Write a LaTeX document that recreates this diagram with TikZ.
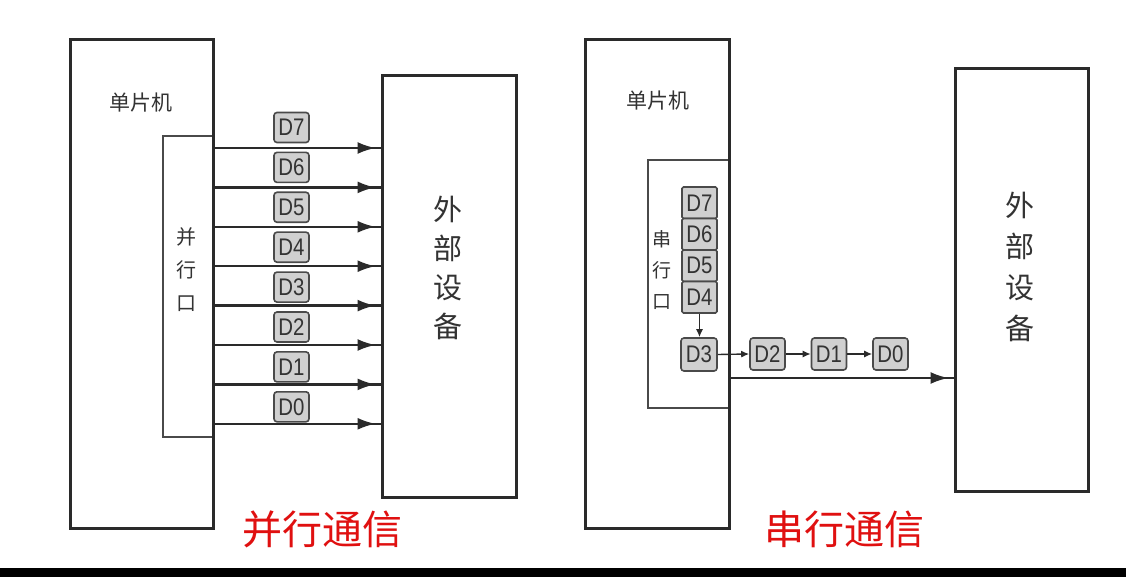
\documentclass[tikz,border=0pt]{standalone}
\usepackage{fontspec}
\usepackage{graphicx}
\setmainfont{Liberation Sans}
\newfontfamily\cjk{Noto Sans CJK SC}
\usetikzlibrary{arrows.meta,decorations.markings}
\definecolor{lineC}{HTML}{2A2A2A}
\definecolor{portC}{HTML}{4A4A4A}
\definecolor{dC}{HTML}{4A4A4A}
\definecolor{dFill}{HTML}{D0D0D0}
\definecolor{txtC}{HTML}{333333}
\definecolor{redC}{HTML}{E01010}
\newcommand{\dl}[1]{\scalebox{0.85}[1]{#1}}
\begin{document}
\begin{tikzpicture}[x=1pt,y=1pt,
  mainbox/.style={draw=lineC, line width=3pt, inner sep=0pt},
  portbox/.style={draw=portC, line width=2.2pt, inner sep=0pt},
  dbox/.style={draw=dC, fill=dFill, line width=1.6pt, rounded corners=3pt,
    minimum width=35pt, minimum height=30pt, inner sep=0pt,
    font=\fontsize{24}{24}\selectfont, text=txtC},
  bus/.style={draw=lineC, line width=2.4pt, postaction={decorate},
    decoration={markings, mark=at position -5pt with {\arrow{Latex[length=18pt,width=12pt]}}}},
  link/.style={draw=lineC, line width=1.4pt, -{Latex[length=8pt,width=7pt]}},
  lbl/.style={text=txtC, inner sep=0pt, font=\cjk\fontsize{21}{21}\selectfont},
  vlbl/.style={text=txtC, inner sep=0pt, align=center},
  redlbl/.style={text=redC, inner sep=0pt, font=\cjk\fontsize{40}{40}\selectfont}
]
\useasboundingbox (0,0) rectangle (1126,-577);
\fill[white] (0,0) rectangle (1126,-577);

% ---------------- parallel ----------------
\node[portbox, minimum width=50pt, minimum height=301pt] (portL) at (188,-286.5) {};
\node[mainbox, minimum width=143pt, minimum height=488pt] (mcuL) at (141.5,-284) {};
\node[mainbox, minimum width=134pt, minimum height=421pt] (devL) at (449,-286.5) {};
\node[lbl] (mcuLt) at (141,-103) {单片机};
\node[vlbl, font=\cjk\fontsize{20}{33}\selectfont] (portLt) at (186,-270) {并\\行\\口};
\node[vlbl, font=\cjk\fontsize{29}{39}\selectfont] (devLt) at (448,-268) {外\\部\\设\\备};

\foreach \i/\y in {7/148,6/187.4,5/226.8,4/266.2,3/305.6,2/345,1/384.4,0/423.8}{
  \coordinate (b\i) at (0,-\y);
  \draw[bus] (mcuL.east |- b\i) -- (devL.west |- b\i);
}
\foreach \i/\y in {7/127.5,6/167.4,5/207.3,4/247.2,3/287.1,2/327,1/366.9,0/406.8}{
  \node[dbox] (p\i) at (291.5,-\y) {\dl{D\i}};
}

% ---------------- serial ----------------
\node[portbox, minimum width=81pt, minimum height=248pt] (portR) at (688.5,-284) {};
\node[mainbox, minimum width=144pt, minimum height=488pt] (mcuR) at (657,-284) {};
\node[mainbox, minimum width=133pt, minimum height=422pt] (devR) at (1021.5,-280) {};
\node[lbl] (mcuRt) at (658,-101) {单片机};
\node[vlbl, font=\cjk\fontsize{19}{31}\selectfont] (portRt) at (662,-270) {串\\行\\口};
\node[vlbl, font=\cjk\fontsize{29}{41}\selectfont] (devRt) at (1020,-267) {外\\部\\设\\备};

\coordinate (sy) at (0,-378);
\draw[bus] (mcuR.east |- sy) -- (devR.west |- sy);

\foreach \i/\y in {7/202.75,6/234.25,5/265.75,4/297.25}{
  \node[dbox, minimum height=31.5pt, rounded corners=1.5pt] (s\i) at (699.5,-\y) {\dl{D\i}};
}
\node[dbox, minimum width=36pt, minimum height=33pt] (s3) at (699,-354.5) {\dl{D3}};
\node[dbox, minimum height=32pt] (s2) at (767.5,-354) {\dl{D2}};
\node[dbox, minimum height=32pt] (s1) at (829,-354) {\dl{D1}};
\node[dbox, minimum height=32pt] (s0) at (890.5,-354) {\dl{D0}};
\draw[link] (s4.south) -- (s4.south |- s3.north);
\draw[link] (s3.east) -- (s2.west);
\draw[link] (s2.east) -- (s1.west);
\draw[link] (s1.east) -- (s0.west);

% ---------------- captions ----------------
\node[redlbl] (capL) at (322,-529) {并行通信};
\node[redlbl] (capR) at (844,-529) {串行通信};

\fill[black] (0,-568) rectangle (1126,-577);
\end{tikzpicture}
\end{document}
